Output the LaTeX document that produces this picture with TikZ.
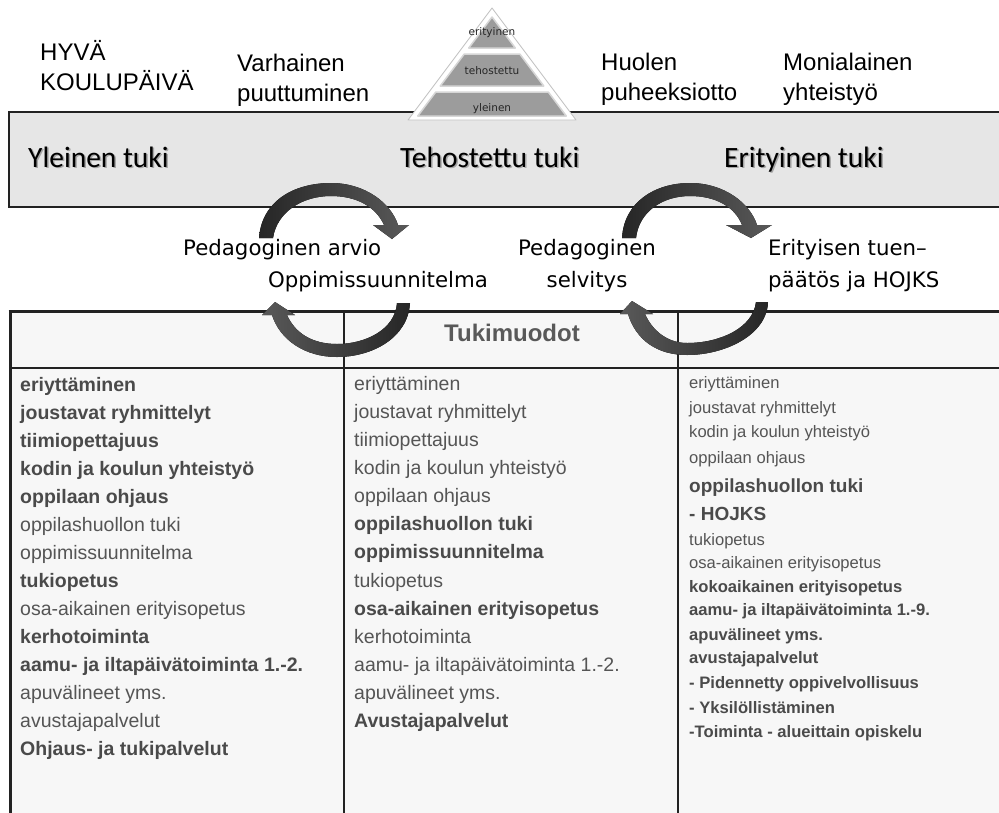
\documentclass[tikz,border=0pt]{standalone}
\usepackage{fontspec}
\setmainfont{Liberation Sans}
\newfontfamily\calfont{Carlito}
\newfontfamily\lucfont{DejaVu Sans}
\definecolor{bandgray}{HTML}{E6E6E6}
\definecolor{tablefill}{HTML}{F7F7F7}
\definecolor{linec}{HTML}{222222}
\definecolor{txtb}{HTML}{4A4A4A}
\definecolor{txtr}{HTML}{555555}
\definecolor{pyrfill}{HTML}{9C9C9C}
\definecolor{pyredge}{HTML}{D6D6D6}
\definecolor{arrdark}{HTML}{262626}
\definecolor{arrlight}{HTML}{595959}
\tikzset{
  toplabel/.style={anchor=base west, inner sep=0pt, align=left, font=\fontsize{24}{30}\selectfont},
  bandlabel/.style={anchor=base west, inner sep=0pt, font=\calfont\fontsize{29.5}{32}\selectfont},
  shadowlabel/.style={bandlabel, text=black!35},
  pyrlabel/.style={anchor=base, inner sep=0pt, font=\lucfont\fontsize{10.5}{12}\selectfont, text=black!85},
  cyclabel/.style={inner sep=0pt, font=\lucfont\fontsize{21.3}{32}\selectfont},
  colb/.style={anchor=base west, inner sep=0pt, text=txtb, font=\bfseries\fontsize{19.5}{22}\selectfont},
  colr/.style={anchor=base west, inner sep=0pt, text=txtr, font=\fontsize{19.5}{22}\selectfont},
  smb/.style={anchor=base west, inner sep=0pt, text=txtb, font=\bfseries\fontsize{16.6}{20}\selectfont},
  smr/.style={anchor=base west, inner sep=0pt, text=txtr, font=\fontsize{16.6}{20}\selectfont},
  bigb/.style={anchor=base west, inner sep=0pt, text=txtb, font=\bfseries\fontsize{19}{22}\selectfont},
  pyrlayer/.style={fill=pyrfill, draw=pyredge, line width=1.5pt, line join=round},
  toparrow/.style={left color=arrdark, right color=arrlight},
  botarrow/.style={left color=arrlight, right color=arrdark},
}
\begin{document}
\begin{tikzpicture}[x=1pt,y=-1pt]
\useasboundingbox (0,0) rectangle (999,812);
\clip (0,0) rectangle (999,812);
\fill[white] (0,0) rectangle (999,812);

% top labels (base = baseline of the last line)
\node[toplabel] (hyva) at (40,90) {HYVÄ\\KOULUPÄIVÄ};
\node[toplabel] (varh) at (237,101) {Varhainen\\puuttuminen};
\node[toplabel] (huolen) at (601,100) {Huolen\\puheeksiotto};
\node[toplabel] (moni) at (783,100) {Monialainen\\yhteistyö};

% band
\draw[fill=bandgray, draw=linec, line width=1.1pt] (9,112) rectangle (1010,207);
\node[shadowlabel] (ylshadow) at (29.5,168.5) {Yleinen tuki};
\node[bandlabel] (yleinen) at (28,167) {Yleinen tuki};
\node[shadowlabel] (tehshadow) at (401.5,168.5) {Tehostettu tuki};
\node[bandlabel] (tehostettu) at (400,167) {Tehostettu tuki};
\node[shadowlabel] (erishadow) at (725.5,168.5) {Erityinen tuki};
\node[bandlabel] (erityinen) at (724,167) {Erityinen tuki};

% pyramid
\fill[white, draw=black!25, line width=0.8pt, line join=round] (492,8) -- (408,120) -- (576,120) -- cycle;
\draw[pyrlayer] (492,17) -- (468.75,48) -- (515.25,48) -- cycle;
\draw[pyrlayer] (464.25,54) -- (519.75,54) -- (543.75,86) -- (440.25,86) -- cycle;
\draw[pyrlayer] (435.75,92) -- (548.25,92) -- (566.25,116) -- (417.75,116) -- cycle;
\node[pyrlabel] (perit) at (492,35) {erityinen};
\node[pyrlabel] (pteh) at (492,74) {tehostettu};
\node[pyrlabel] (pyl) at (492,111) {yleinen};

% table
\fill[tablefill] (10,311) rectangle (1010,830);
\draw[linec, line width=1.4pt] (344,311) -- (344,830);
\draw[linec, line width=1.4pt] (678,311) -- (678,830);
\draw[linec, line width=2pt] (9,368) -- (1010,368);
\draw[linec, line width=3pt] (8.5,311) -- (1010,311);
\draw[linec, line width=3pt] (10,311) -- (10,830);
\node[anchor=base, inner sep=0pt, text=black!65, font=\bfseries\fontsize{24}{28}\selectfont] (tuki) at (512,341) {Tukimuodot};

% column 1
\node[colb] (a1) at (20,391) {eriyttäminen};
\node[colb] (a2) at (20,419) {joustavat ryhmittelyt};
\node[colb] (a3) at (20,447) {tiimiopettajuus};
\node[colb] (a4) at (20,475) {kodin ja koulun yhteistyö};
\node[colb] (a5) at (20,503) {oppilaan ohjaus};
\node[colr] (a6) at (20,531) {oppilashuollon tuki};
\node[colr] (a7) at (20,559) {oppimissuunnitelma};
\node[colb] (a8) at (20,587) {tukiopetus};
\node[colr] (a9) at (20,615) {osa-aikainen erityisopetus};
\node[colb] (a10) at (20,643) {kerhotoiminta};
\node[colb] (a11) at (20,671) {aamu- ja iltapäivätoiminta 1.-2.};
\node[colr] (a12) at (20,699) {apuvälineet yms.};
\node[colr] (a13) at (20,727) {avustajapalvelut};
\node[colb] (a14) at (20,755) {Ohjaus- ja tukipalvelut};

% column 2
\node[colr] (b1) at (354,390) {eriyttäminen};
\node[colr] (b2) at (354,418) {joustavat ryhmittelyt};
\node[colr] (b3) at (354,446) {tiimiopettajuus};
\node[colr] (b4) at (354,474) {kodin ja koulun yhteistyö};
\node[colr] (b5) at (354,502) {oppilaan ohjaus};
\node[colb] (b6) at (354,530) {oppilashuollon tuki};
\node[colb] (b7) at (354,558) {oppimissuunnitelma};
\node[colr] (b8) at (354,587) {tukiopetus};
\node[colb] (b9) at (354,615) {osa-aikainen erityisopetus};
\node[colr] (b10) at (354,643) {kerhotoiminta};
\node[colr] (b11) at (354,671) {aamu- ja iltapäivätoiminta 1.-2.};
\node[colr] (b12) at (354,699) {apuvälineet yms.};
\node[colb] (b13) at (354,727) {Avustajapalvelut};

% column 3
\node[smr] (c1) at (689,388) {eriyttäminen};
\node[smr] (c2) at (689,413) {joustavat ryhmittelyt};
\node[smr] (c3) at (689,437) {kodin ja koulun yhteistyö};
\node[smr] (c4) at (689,463) {oppilaan ohjaus};
\node[bigb] (c5) at (689,492) {oppilashuollon tuki};
\node[bigb] (c6) at (689,520) {- HOJKS};
\node[smr] (c7) at (689,545) {tukiopetus};
\node[smr] (c8) at (689,568) {osa-aikainen erityisopetus};
\node[smb] (c9) at (689,592) {kokoaikainen erityisopetus};
\node[smb] (c10) at (689,615) {aamu- ja iltapäivätoiminta 1.-9.};
\node[smb] (c11) at (689,640) {apuvälineet yms.};
\node[smb] (c12) at (689,663) {avustajapalvelut};
\node[smb] (c13) at (689,688) {- Pidennetty oppivelvollisuus};
\node[smb] (c14) at (689,713) {- Yksilöllistäminen};
\node[smb] (c15) at (689,737) {-Toiminta - alueittain opiskelu};

% cycle labels
\node[cyclabel, anchor=base west] (parvio) at (183,255) {Pedagoginen arvio};
\node[cyclabel, anchor=base west] (oppsuun) at (268,287) {Oppimissuunnitelma};
\node[cyclabel, anchor=base, align=center] (pselv) at (587,287) {Pedagoginen\\selvitys};
\node[cyclabel, anchor=base west, align=left] (etuen) at (768,287) {Erityisen tuen–\\päätös ja HOJKS};

% circular arrows
% top left
\fill[toparrow] (259,238) .. controls (262,200) and (295,183) .. (331,183)
  .. controls (365,183) and (391,203) .. (398,225) -- (409,225) -- (392,239) -- (373,225) -- (384,225)
  .. controls (376,207) and (357,196) .. (331,196)
  .. controls (302,196) and (277,212) .. (273,238) -- cycle;
% bottom left
\fill[botarrow] (410,303) .. controls (408,338) and (372,357) .. (337,357)
  .. controls (305,357) and (280,340) .. (272,315) -- (262,315) -- (275,302) -- (295,315) -- (287,315)
  .. controls (295,333) and (312,344) .. (337,344)
  .. controls (365,344) and (395,330) .. (397,303) -- cycle;
% top right
\fill[toparrow] (622,238) .. controls (624,202) and (655,183) .. (690,183)
  .. controls (724,183) and (750,203) .. (757,225) -- (772,225) -- (751,238) -- (726,225) -- (742,225)
  .. controls (735,207) and (716,196) .. (690,196)
  .. controls (662,196) and (639,212) .. (636,238) -- cycle;
% bottom right
\fill[botarrow] (768,302) .. controls (767,335) and (725,355) .. (687,355)
  .. controls (657,355) and (636,340) .. (628,314) -- (620,314) -- (632,301) -- (653,314) -- (645,314)
  .. controls (652,330) and (667,343) .. (687,343)
  .. controls (720,343) and (753,328) .. (756,302) -- cycle;
\end{tikzpicture}
\end{document}
